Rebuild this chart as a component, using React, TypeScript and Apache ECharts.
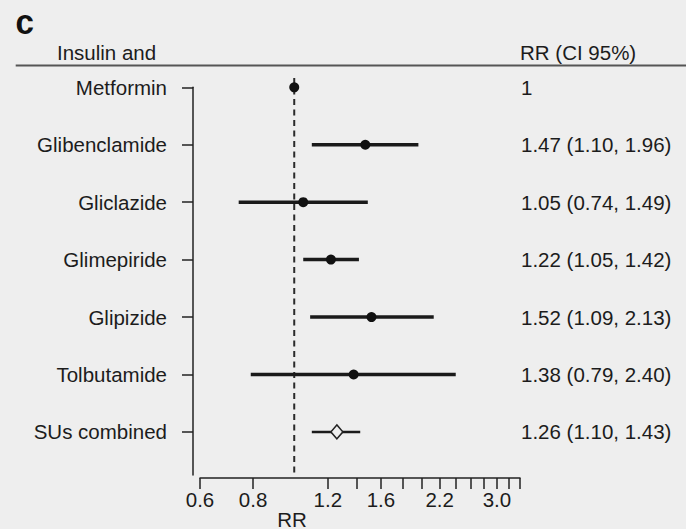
import React, { useEffect, useRef } from "react";
import * as echarts from "echarts";

const drugs = [
  "Metformin",
  "Glibenclamide",
  "Gliclazide",
  "Glimepiride",
  "Glipizide",
  "Tolbutamide",
  "SUs combined",
];
const rr = [1, 1.47, 1.05, 1.22, 1.52, 1.38, 1.26];
const ciLow = [1, 1.1, 0.74, 1.05, 1.09, 0.79, 1.1];
const ciHigh = [1, 1.96, 1.49, 1.42, 2.13, 2.4, 1.43];
const rrLabels = [
  "1",
  "1.47 (1.10, 1.96)",
  "1.05 (0.74, 1.49)",
  "1.22 (1.05, 1.42)",
  "1.52 (1.09, 2.13)",
  "1.38 (0.79, 2.40)",
  "1.26 (1.10, 1.43)",
];
const xMin = 0.6;
const xMax = 3.4;
const refValue = 1;
const xTickValues = [0.6, 0.8, 1.2, 1.4, 1.6, 1.8, 2.0, 2.2, 2.4, 2.6, 2.8, 3.0, 3.2, 3.4];
const xLabelValues = [0.6, 0.8, 1.2, 1.6, 2.2, 3.0];
const summaryIndex = 6;

const FONT = "'Liberation Sans', Arial, Helvetica, sans-serif";
const TXT = "#1c1c1c";
const BG = "#eeeeee";
const FS = 20.5;

export default function App() {
  const ref = useRef<HTMLDivElement>(null);
  useEffect(() => {
    document.body.style.margin = "0";
    document.body.style.background = BG;
    if (!ref.current) return;
    const chart = echarts.init(ref.current, undefined, { renderer: "svg" });
    const rows = drugs.map((_, i) => i);
    const yMax = drugs.length - 1 + 0.75;

    chart.setOption({
      animation: false,
      backgroundColor: BG,
      grid: { left: 200, top: 87.3, width: 320, height: 387.7 },
      xAxis: {
        type: "value",
        min: Math.log(xMin),
        max: Math.log(xMax),
        offset: 3,
        splitLine: { show: false },
        axisLine: { show: true, onZero: false, lineStyle: { color: "#222", width: 1.5 } },
        axisTick: {
          show: true,
          length: 11,
          customValues: xTickValues.map((v) => Math.log(v)),
          lineStyle: { color: "#222", width: 1.5 },
        },
        axisLabel: {
          customValues: xLabelValues.map((v) => Math.log(v)),
          formatter: (v: number) => Math.exp(v).toFixed(1),
          margin: 11,
          fontSize: FS,
          fontFamily: FONT,
          color: TXT,
        },
      },
      yAxis: [
        {
          type: "value",
          inverse: true,
          min: 0,
          max: yMax,
          position: "left",
          offset: 7,
          splitLine: { show: false },
          axisLine: { show: true, onZero: false, lineStyle: { color: "#222", width: 1.5 } },
          axisTick: {
            show: true,
            length: 11,
            customValues: rows,
            lineStyle: { color: "#222", width: 1.5 },
          },
          axisLabel: {
            customValues: rows,
            formatter: (v: number) => drugs[Math.round(v)],
            margin: 26,
            fontSize: FS,
            fontFamily: FONT,
            color: TXT,
          },
        },
        {
          type: "value",
          inverse: true,
          min: 0,
          max: yMax,
          position: "right",
          splitLine: { show: false },
          axisLine: { show: false, onZero: false },
          axisTick: { show: false },
          axisLabel: {
            customValues: rows,
            formatter: (v: number) => rrLabels[Math.round(v)],
            margin: 1,
            fontSize: FS,
            fontFamily: FONT,
            color: TXT,
          },
        },
      ],
      graphic: [
        {
          type: "text",
          x: 15.5,
          y: 22,
          scaleX: 0.95,
          style: {
            x: 0,
            y: 0,
            text: "c",
            font: `bold 35px ${FONT}`,
            fill: "#111",
            verticalAlign: "middle",
          },
        },
        {
          type: "text",
          style: { x: 57, y: 52, text: "Insulin and", font: `${FS}px ${FONT}`, fill: TXT, verticalAlign: "middle" },
        },
        {
          type: "text",
          style: { x: 520, y: 52, text: "RR (CI 95%)", font: `${FS}px ${FONT}`, fill: TXT, verticalAlign: "middle" },
        },
        {
          type: "line",
          shape: { x1: 15.7, y1: 65.5, x2: 686, y2: 65.5 },
          style: { stroke: "#555", lineWidth: 2 },
        },
        {
          type: "text",
          style: { x: 292, y: 519, text: "RR", font: `${FS}px ${FONT}`, fill: TXT, align: "center", verticalAlign: "middle" },
        },
      ],
      series: [
        {
          type: "line",
          data: [
            [Math.log(refValue), -0.16],
            [Math.log(refValue), yMax],
          ],
          clip: false,
          symbol: "none",
          lineStyle: { color: "#2a2a2a", width: 2, type: [6, 4.5] },
          z: 1,
        },
        {
          type: "custom",
          data: rows.map((i) => [Math.log(ciLow[i]), Math.log(ciHigh[i]), i]),
          encode: { x: [0, 1], y: 2 },
          renderItem: (params: any, api: any) => {
            const i = api.value(2);
            const p1 = api.coord([api.value(0), i]);
            const p2 = api.coord([api.value(1), i]);
            return {
              type: "line",
              shape: { x1: p1[0], y1: p1[1], x2: p2[0], y2: p2[1] },
              style: { stroke: "#1a1a1a", lineWidth: i === summaryIndex ? 2.5 : 3.5 },
            };
          },
          z: 2,
        },
        {
          type: "scatter",
          data: rows.filter((i) => i !== summaryIndex).map((i) => [Math.log(rr[i]), i]),
          symbol: "circle",
          symbolSize: 10,
          itemStyle: { color: "#111", opacity: 1 },
          z: 3,
        },
        {
          type: "scatter",
          data: [[Math.log(rr[summaryIndex]), summaryIndex]],
          symbol: "diamond",
          symbolSize: [12, 14],
          itemStyle: { color: BG, borderColor: "#222", borderWidth: 1.5, opacity: 1 },
          z: 4,
        },
      ],
    });
    return () => chart.dispose();
  }, []);
  return <div ref={ref} style={{ width: 686, height: 529 }} />;
}
